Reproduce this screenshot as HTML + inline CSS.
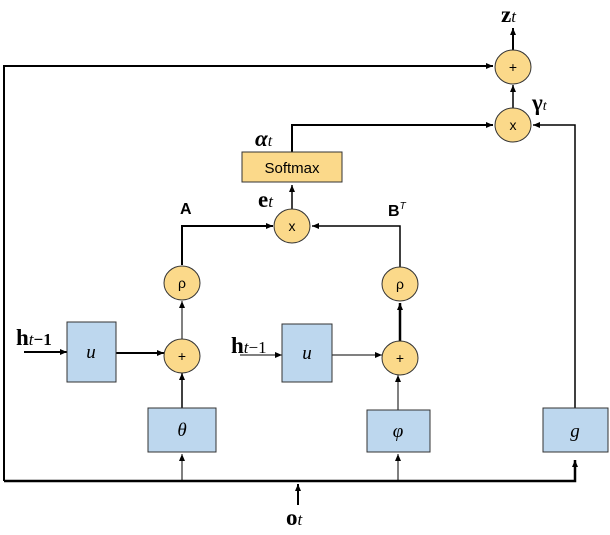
<!DOCTYPE html>
<html><head><meta charset="utf-8"><style>
html,body{margin:0;padding:0;background:#fff;}
</style></head><body>
<svg width="610" height="530" viewBox="0 0 610 530" xmlns="http://www.w3.org/2000/svg" font-family="Liberation Sans, sans-serif">
<defs>
<marker id="a" markerWidth="8" markerHeight="8" refX="7" refY="4" orient="auto" markerUnits="userSpaceOnUse">
<path d="M0,1 L7,4 L0,7 z" fill="#000"/></marker>
</defs>
<g stroke="#000" fill="none">
<polyline points="4,481 4,66 493,66" stroke-width="2" marker-end="url(#a)"/>
<polyline points="4,481 575,481 575,460" stroke-width="2.5" marker-end="url(#a)"/>
<line x1="298" y1="505" x2="298" y2="484" stroke-width="2" marker-end="url(#a)"/>
<line x1="513" y1="50" x2="513" y2="28" stroke-width="2" marker-end="url(#a)"/>
<line x1="513" y1="108" x2="513" y2="85" stroke-width="1.5" marker-end="url(#a)"/>
<polyline points="292,152 292,125 493,125" stroke-width="2" marker-end="url(#a)"/>
<polyline points="575,408 575,125 533,125" stroke-width="1.5" marker-end="url(#a)"/>
<line x1="292" y1="210" x2="292" y2="185" stroke-width="1.5" marker-end="url(#a)"/>
<polyline points="182,265 182,226 273,226" stroke-width="2" marker-end="url(#a)"/>
<polyline points="400,267 400,226 312,226" stroke-width="1.5" marker-end="url(#a)"/>
<line x1="182" y1="340" x2="182" y2="301" stroke-width="1" marker-end="url(#a)"/>
<line x1="400" y1="342" x2="400" y2="303" stroke-width="2.5" marker-end="url(#a)"/>
<line x1="182" y1="408" x2="182" y2="373" stroke-width="1.5" marker-end="url(#a)"/>
<line x1="398" y1="410" x2="398" y2="375" stroke-width="1" marker-end="url(#a)"/>
<line x1="182" y1="481" x2="182" y2="454" stroke-width="1" marker-end="url(#a)"/>
<line x1="398" y1="481" x2="398" y2="454" stroke-width="1" marker-end="url(#a)"/>
<line x1="116" y1="353" x2="164" y2="353" stroke-width="2" marker-end="url(#a)"/>
<line x1="332" y1="355" x2="382" y2="355" stroke-width="1" marker-end="url(#a)"/>
<line x1="24" y1="352" x2="67" y2="352" stroke-width="2" marker-end="url(#a)"/>
<line x1="240" y1="355" x2="282" y2="355" stroke-width="1" marker-end="url(#a)"/>
</g>
<g fill="#fbd98a" stroke="#333" stroke-width="1">
<ellipse cx="513" cy="67" rx="18" ry="17"/>
<ellipse cx="513" cy="125" rx="18" ry="17"/>
<ellipse cx="292" cy="226" rx="18" ry="17"/>
<ellipse cx="182" cy="283" rx="18" ry="17"/>
<ellipse cx="400" cy="284" rx="18" ry="17"/>
<ellipse cx="182" cy="356" rx="18" ry="17"/>
<ellipse cx="400" cy="358" rx="18" ry="17"/>
<rect x="242" y="152" width="100" height="30"/>
</g>
<g fill="#bdd7ee" stroke="#333" stroke-width="1">
<rect x="67" y="322" width="49" height="60"/>
<rect x="282" y="324" width="50" height="58"/>
<rect x="148" y="408" width="68" height="44"/>
<rect x="367" y="410" width="63" height="42"/>
<rect x="543" y="408" width="65" height="44"/>
</g>
<g font-size="14" text-anchor="middle" fill="#000">
<text x="513" y="72">+</text>
<text x="513" y="130">x</text>
<text x="292" y="231">x</text>
<text x="182" y="288">ρ</text>
<text x="400" y="289">ρ</text>
<text x="182" y="361">+</text>
<text x="400" y="363">+</text>
<text x="292" y="173" font-size="15">Softmax</text>
</g>
<g font-family="Liberation Serif, serif" font-style="italic" font-size="19" text-anchor="middle">
<text x="91" y="358">u</text>
<text x="307" y="359">u</text>
<text x="182" y="436">θ</text>
<text x="398" y="437">φ</text>
<text x="575" y="437">g</text>
</g>
<g font-family="Liberation Serif, serif" font-weight="bold" font-size="23" fill="#000">
<text x="501" y="22">z<tspan font-style="italic" font-weight="normal" font-size="17">t</tspan></text>
<text x="532" y="110">γ<tspan font-style="italic" font-weight="normal" font-size="14">t</tspan></text>
<text x="255" y="146" font-style="italic">α<tspan font-weight="normal" font-size="16">t</tspan></text>
<text x="258" y="207">e<tspan font-style="italic" font-weight="normal" font-size="17">t</tspan></text>
<text x="16" y="345">h<tspan font-style="italic" font-weight="normal" font-size="17">t</tspan><tspan font-size="17">−1</tspan></text>
<text x="231" y="353">h<tspan font-style="italic" font-weight="normal" font-size="17">t</tspan><tspan font-weight="normal" font-size="17">−1</tspan></text>
<text x="286" y="525">o<tspan font-style="italic" font-weight="normal" font-size="17">t</tspan></text>
</g>
<g font-weight="bold" font-size="16" fill="#000">
<text x="180" y="214">A</text>
<text x="388" y="216">B<tspan font-style="italic" font-weight="normal" font-size="10" dy="-7">T</tspan></text>
</g>
</svg>
</body></html>
